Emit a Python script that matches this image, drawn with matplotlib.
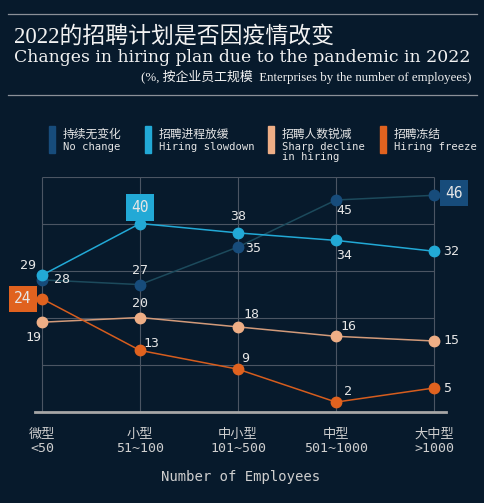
import matplotlib.pyplot as plt
from matplotlib.lines import Line2D
from matplotlib.patches import Rectangle

# data
categories = ['微型\n<50', '小型\n51~100', '中小型\n101~500', '中型\n501~1000', '大中型\n>1000']
no_change = [28, 27, 35, 45, 46]
slowdown = [29, 40, 38, 36.4, 34.1]        # positions as drawn in the picture
slowdown_labels = ['29', '40', '38', '34', '32']
sharp_decline = [19, 20, 18, 16, 15]
freeze = [24, 13, 9, 2, 5]

legend_cn = ['持续无变化', '招聘进程放缓', '招聘人数锐减', '招聘冻结']
legend_en = ['No change', 'Hiring slowdown', 'Sharp decline\nin hiring', 'Hiring freeze']

bg = '#071a2c'
mono = ['DejaVu Sans Mono', 'Noto Sans CJK SC']
cjk = ['Noto Sans CJK SC', 'DejaVu Sans']
txt = '#e6e6e6'

# series style: (marker color, line color, label offsets in px, boxed index)
series = [
    (no_change, [str(v) for v in no_change], '#174c7b', '#1c4a5c',
     [(12, 0, 'left'), (0, 14, 'center'), (7, -2, 'left'), (8, -10, 'center'), (20, 2, 'center')], 4),
    (slowdown, slowdown_labels, '#22a9d6', '#22a9d6',
     [(-14, 10, 'center'), (0, 16, 'center'), (0, 16, 'center'), (8, -15, 'center'), (9, 0, 'left')], 1),
    (sharp_decline, [str(v) for v in sharp_decline], '#eeae86', '#d29a7a',
     [(-9, -15, 'center'), (0, 14, 'center'), (13, 12, 'center'), (12, 10, 'center'), (9, 0, 'left')], None),
    (freeze, [str(v) for v in freeze], '#e0621f', '#d65d1e',
     [(-19, 0, 'center'), (11, 7, 'center'), (7, 11, 'center'), (12, 11, 'center'), (9, 0, 'left')], 0),
]

fig = plt.figure(figsize=(4.85, 5.03), dpi=100)
fig.patch.set_facecolor(bg)
W, H = 485, 503

# header
for yy in (14, 95):
    fig.add_artist(Line2D([8 / W, 477 / W], [1 - yy / H, 1 - yy / H], color='#8b9098', lw=0.9))
fig.text(14 / W, 1 - 44 / H, '2022的招聘计划是否因疫情改变', color='#f2f2f2', fontsize=16.5,
         family=['Liberation Serif', 'Noto Sans CJK SC'], weight='light', va='baseline')
fig.text(14 / W, 1 - 62 / H, 'Changes in hiring plan due to the pandemic in 2022', color='#f2f2f2',
         fontsize=12.4, family=['DejaVu Serif'], va='baseline')
fig.text(472 / W, 1 - 81 / H, '(%, 按企业员工规模  Enterprises by the number of employees)',
         color='#f2f2f2', fontsize=9.3, family=['Liberation Serif', 'Noto Sans CJK SC'],
         ha='right', va='baseline')

# legend
leg_x = [49, 145, 268, 380]
for i, s in enumerate(series):
    fig.add_artist(Rectangle((leg_x[i] / W, 1 - 153 / H), 6 / W, 27 / H, color=s[2]))
    fig.text((leg_x[i] + 14) / W, 1 - 134 / H, legend_cn[i], color=txt, fontsize=8.5,
             family=cjk, va='center')
    fig.text((leg_x[i] + 14) / W, 1 - 142 / H, legend_en[i], color=txt, fontsize=7.6,
             family=mono, va='top', linespacing=0.95)

# chart
ax = fig.add_axes([35 / W, 91.5 / H, 411 / W, 235 / H])
ax.set_facecolor(bg)
x = list(range(len(categories)))
ax.set_xlim(-0.0714, 4.122)
ax.set_ylim(0, 50)

ax.vlines(x, 0, 50, color='#4b5563', lw=0.8, zorder=1)
ax.hlines([10, 20, 30, 40, 50], 0, 4, color='#4b5563', lw=0.8, zorder=1)

for vals, labs, mc, lc, offs, boxed in series:
    ax.plot(x, vals, color=lc, lw=1.1, zorder=2, clip_on=False)
    ax.plot(x, vals, 'o', color=mc, ms=7.5, zorder=3, clip_on=False)
    for i, v in enumerate(vals):
        dx, dy, ha = offs[i]
        kw = {}
        size = 9.5
        if i == boxed:
            kw['bbox'] = dict(boxstyle='square,pad=0.38', fc=mc, ec='none')
            size = 10.5
        ax.annotate(labs[i], (i, v), xytext=(dx * 0.72, dy * 0.72), textcoords='offset points',
                    ha=ha, va='center', color=txt, fontsize=size, family=mono,
                    annotation_clip=False, zorder=4, **kw)

for side in ('top', 'left', 'right'):
    ax.spines[side].set_visible(False)
ax.spines['bottom'].set_color('#a6a6a6')
ax.spines['bottom'].set_linewidth(2)
ax.set_yticks([])
ax.set_xticks(x)
ax.set_xticklabels(categories, family=mono, fontsize=9.5, color='#cfcfcf', linespacing=1.1)
ax.tick_params(axis='x', length=0, pad=12)
ax.set_xlabel('Number of Employees', family=mono, fontsize=10, color='#cfcfcf', labelpad=11)

fig.savefig('out.png', dpi=100, facecolor=bg)
